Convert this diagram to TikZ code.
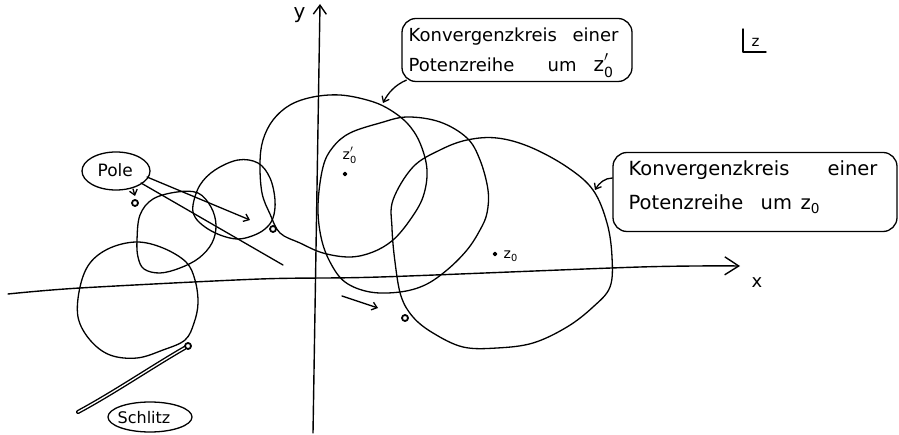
\documentclass[tikz,border=0pt]{standalone}
\usepackage{fontspec}
\setsansfont{DejaVu Sans}
\usetikzlibrary{arrows.meta,shapes.geometric}
\newcommand{\zsub}{z\textsubscript{0}}
\newcommand{\zsubp}{$\mathsf{z}_{\mathsf{0}}'$}
\begin{document}
\begin{tikzpicture}[x=1pt,y=-1pt,line width=1.3pt,line join=round,line cap=round,
  curve/.style={line width=1.3pt},
  axis/.style={line width=1.4pt},
  polemark/.style={circle,draw,line width=1.8pt,inner sep=0pt,minimum size=6pt},
  dotmark/.style={circle,draw,fill,inner sep=0pt,minimum size=3.5pt},
  bubble/.style={draw,ellipse,inner sep=0pt,line width=1.3pt},
  callout/.style={draw,rounded corners=14pt,inner sep=0pt,line width=1.3pt},
  lbl/.style={font=\sffamily,inner sep=0pt,anchor=base west},
  barb/.style={-{Straight Barb[length=5pt,width=8pt]}},
  bigbarb/.style={-{Straight Barb[length=14pt,width=18pt]}},
]
\useasboundingbox (0,0) rectangle (899,435);

% axes
\coordinate (xs) at (8,294);
\coordinate (xe) at (740,266);
\coordinate (ys) at (313,433);
\coordinate (ye) at (320,4);
\draw[axis,bigbarb] plot[smooth] coordinates {(xs) (80,288) (260,279) (380,277) (640,267) (xe)};
\draw[axis,-{Straight Barb[length=9pt,width=13pt]}] (ys) -- (ye);
\node[lbl,font=\sffamily\fontsize{18}{18}\selectfont] (xl) at (751,288) {x};
\node[lbl,font=\sffamily\fontsize{20}{20}\selectfont] (yl) at (293,19) {y};

% z-plane mark
\draw[line width=1.4pt] (743,29) |- (766,52);
\node[lbl,font=\sffamily\fontsize{15}{15}\selectfont] (zl) at (751,47) {z};

% circle A (around z0')
\draw[curve] plot[smooth cycle,tension=0.6] coordinates {
 (260,163) (263,140) (273,120) (290,105) (313,97) (340,95) (367,100) (387,108)
 (407,123) (420,143) (427,170) (423,197) (410,220) (393,240) (373,252) (350,257)
 (323,253) (300,243) (280,233) (270,214) (262,193)};
% circle B
\draw[curve] plot[smooth cycle,tension=0.6] coordinates {
 (318,205) (323,167) (333,147) (350,133) (380,123) (407,117) (440,122) (467,138)
 (480,160) (488,190) (487,213) (480,230) (467,250) (447,270) (425,285) (400,292)
 (370,292) (345,282) (330,262) (321,237)};
% circle C (around z0)
\draw[curve] plot[smooth cycle,tension=0.6] coordinates {
 (393,200) (413,167) (440,150) (467,140) (497,138) (530,147) (567,167) (593,190)
 (607,223) (612,257) (610,287) (593,307) (567,327) (533,343) (497,348) (463,347)
 (433,333) (413,317) (401,296) (395,262) (392,228)};
% circle D
\draw[curve] plot[smooth cycle,tension=0.6] coordinates {
 (193,205) (200,185) (215,170) (238,160) (258,163) (270,178) (275,200) (273,218)
 (265,229) (252,236) (237,239) (220,235) (205,227) (195,217)};
% circle E
\draw[curve] plot[smooth cycle,tension=0.6] coordinates {
 (137,240) (140,215) (153,199) (177,192) (198,193) (211,207) (216,225) (212,243)
 (199,258) (180,268) (160,273) (144,269) (138,257)};
% circle F
\draw[curve] plot[smooth cycle,tension=0.6] coordinates {
 (80,287) (90,263) (110,248) (137,242) (163,248) (186,262) (195,280) (198,303)
 (194,323) (185,340) (163,350) (137,358) (110,355) (90,340) (78,317)};

% poles
\node[polemark] (p1) at (135,203) {};
\node[polemark] (p2) at (273,229) {};
\node[polemark] (p3) at (405,318) {};
\node[polemark] (p4) at (188,346) {};

% slit
\coordinate (se) at (78,412);
\draw[line width=1.4pt,double=white,double distance=1.3pt] (p4) .. controls (150,368) and (115,392) .. (se);

% centres
\node[dotmark] (z0p) at (345,174) {};
\node[dotmark] (z0) at (495,254) {};
\node[lbl,font=\sffamily\fontsize{14}{14}\selectfont] at (342,160) {\zsubp};
\node[lbl,font=\sffamily\fontsize{14}{14}\selectfont] at (503,259) {\zsub};

% Pole bubble
\node[bubble,minimum width=68pt,minimum height=38pt] (pole) at (116,171) {};
\node[lbl,font=\sffamily\fontsize{17}{17}\selectfont] at (97,177) {Pole};
\coordinate (a1) at (135,196);
\coordinate (a2) at (250,220);
\coordinate (a3) at (283,265);
\coordinate (a4s) at (342,296);
\coordinate (a4e) at (378,308);
\draw[barb] (133,189) -- (a1);
\draw[barb] (147,177) -- (a2);
\draw (141,183) -- (a3);
\draw[barb] (a4s) -- (a4e);

% Schlitz bubble
\node[bubble,minimum width=84pt,minimum height=30pt] (slit) at (150,417) {};
\node[lbl,font=\sffamily\fontsize{16}{16}\selectfont] at (117,423) {Schlitz};

% callout 1
\node[callout,minimum width=230pt,minimum height=63pt] (lab1) at (517,50) {};
\node[lbl,font=\sffamily\fontsize{18}{18}\selectfont] at (408,42) {\makebox[164pt][l]{Konvergenzkreis}einer};
\node[lbl,font=\sffamily\fontsize{18}{18}\selectfont] at (408,72) {\makebox[139pt][l]{Potenzreihe}\makebox[46pt][l]{um}\fontsize{20}{20}\selectfont\zsubp};
\coordinate (t1) at (383,103);
\draw[barb] ([xshift=5pt,yshift=2pt]lab1.south west) .. controls (395,85) and (388,93) .. (t1);

% callout 2
\node[callout,minimum width=284pt,minimum height=79pt] (lab2) at (755,192) {};
\node[lbl,font=\sffamily\fontsize{19.5}{19.5}\selectfont] at (628,176) {\makebox[199pt][l]{Konvergenzkreis}einer};
\node[lbl,font=\sffamily\fontsize{19.5}{19.5}\selectfont] at (628,210) {\makebox[132pt][l]{Potenzreihe}\makebox[40pt][l]{um}\zsub};
\coordinate (t2) at (595,190);
\draw[barb] ([yshift=14pt]lab2.west) .. controls (605,178) and (599,183) .. (t2);

\end{tikzpicture}
\end{document}
